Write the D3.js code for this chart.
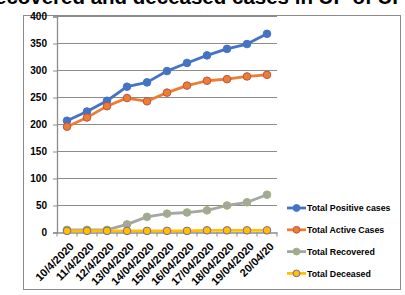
<!DOCTYPE html>
<html><head><meta charset="utf-8">
<script src="https://cdn.jsdelivr.net/npm/d3@7"></script>
<style>body{margin:0;background:#fff;}svg{display:block;font-family:"Liberation Sans",Arial,sans-serif;}</style>
</head><body>
<svg id="c" width="405" height="295"></svg>
<script>
const dates = ["10/4/2020","11/4/2020","12/4/2020","13/04/2020","14/04/2020","15/04/2020","16/04/2020","17/04/2020","18/04/2020","19/04/2020","20/04/20"];
const positive = [207,224,244,270,278,299,314,328,340,349,368];
const active = [196,213,234,249,243,259,272,281,284,289,292];
const recovered = [5,5,5,15,29,35,37,41,50,56,70];
const deceased = [3,3,3,3,3,3,3,4,4,4,4];
const yTicks = [0,50,100,150,200,250,300,350,400];
const seriesNames = ["Total Positive cases","Total Active Cases","Total Recovered","Total Deceased"];
const titleText = "recovered and deceased cases in UP of UP";

const series = [
  {name:seriesNames[0], values:positive, line:"#4472C4", fill:"#4472C4", stroke:"#4472C4"},
  {name:seriesNames[1], values:active, line:"#ED7D31", fill:"#ED7D31", stroke:"#C0504D"},
  {name:seriesNames[2], values:recovered, line:"#A5A5A5", fill:"#A5A5A5", stroke:"#9BBB59"},
  {name:seriesNames[3], values:deceased, line:"#FFC000", fill:"#FFC000", stroke:"#8064A2"}
];

const svg = d3.select("#c");
// title (clipped at top, as in the source image)
svg.append("text").attr("x",-13).attr("y",4).attr("font-size",20.5).attr("font-weight","bold")
  .attr("fill","#000").text(titleText);
// chart border
svg.append("rect").attr("x",23.5).attr("y",15.5).attr("width",377).attr("height",274)
  .attr("fill","#fff").attr("stroke","#8c8c8c").attr("stroke-width",1);

const x = d3.scaleBand().domain(dates).range([57,277]);
const y = d3.scaleLinear().domain([0,400]).range([232.5,16.5]);

// gridlines
svg.append("g").selectAll("line").data(yTicks.filter(d=>d>0)).join("line")
  .attr("x1",57).attr("x2",277).attr("y1",d=>y(d)).attr("y2",d=>y(d))
  .attr("stroke","#8c8c8c").attr("stroke-width",1);

// y axis
const ya = svg.append("g").attr("transform","translate(57,0)")
  .call(d3.axisLeft(y).tickValues(yTicks).tickSize(4).tickPadding(6).tickFormat(d3.format("d")));
ya.select(".domain").attr("stroke","#8c8c8c").attr("stroke-width",1.3);
ya.selectAll(".tick line").attr("stroke","#8c8c8c");
ya.selectAll("text").attr("font-size",10).attr("font-weight","bold").attr("fill","#000")
  .attr("font-family","'Liberation Sans',Arial,sans-serif");

// x axis
const xa = svg.append("g").attr("transform",`translate(0,${y(0)})`)
  .call(d3.axisBottom(x).tickSize(0).tickSizeOuter(0));
xa.select(".domain").attr("stroke","#8c8c8c").attr("stroke-width",1.3);
xa.selectAll(".tick text").attr("font-size",11).attr("font-weight","bold").attr("fill","#000")
  .attr("font-family","'Liberation Sans',Arial,sans-serif")
  .attr("text-anchor","end").attr("dy",0)
  .attr("transform","translate(5.5,12.5) rotate(-45)");
// band boundary ticks
svg.append("g").selectAll("line").data(dates.concat([null])).join("line")
  .attr("x1",(d,i)=>57+i*x.step()).attr("x2",(d,i)=>57+i*x.step())
  .attr("y1",y(0)).attr("y2",y(0)+4).attr("stroke","#8c8c8c");

const line = d3.line().x((d,i)=>x(dates[i])+x.bandwidth()/2).y(d=>y(d));
series.forEach(s=>{
  const g = svg.append("g");
  g.append("path").datum(s.values).attr("d",line).attr("fill","none")
    .attr("stroke",s.line).attr("stroke-width",2.8).attr("stroke-linejoin","round");
  g.selectAll("circle").data(s.values).join("circle")
    .attr("cx",(d,i)=>x(dates[i])+x.bandwidth()/2).attr("cy",d=>y(d)).attr("r",3.8)
    .attr("fill",s.fill).attr("stroke",s.stroke).attr("stroke-width",1);
});

// legend
const lg = svg.append("g");
series.forEach((s,i)=>{
  const yy = 208 + i*21.8;
  lg.append("line").attr("x1",287).attr("x2",306).attr("y1",yy).attr("y2",yy)
    .attr("stroke",s.line).attr("stroke-width",2.8);
  lg.append("circle").attr("cx",296.5).attr("cy",yy).attr("r",3.4)
    .attr("fill",s.fill).attr("stroke",s.stroke).attr("stroke-width",1);
  lg.append("text").attr("x",307).attr("y",yy+3.2).attr("font-size",8.8).attr("font-weight","bold")
    .attr("fill","#000").text(s.name);
});
</script>
</body></html>
